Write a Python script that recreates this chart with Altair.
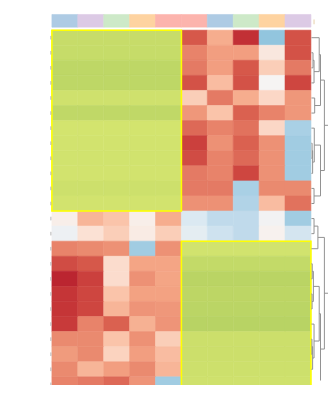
import altair as alt
import pandas as pd

# ---------------- data ----------------
N_ROWS = 24
N_COLS = 10
COLUMNS = [f"S{i}" for i in range(1, 11)]

# sample-group annotation colours (top bar)
ANNOT_COLORS = ["#aecbe4", "#dccae5", "#cde9c8", "#fed3a0", "#fcb4ad",
                "#fcb4ad", "#aecbe4", "#cde9c8", "#fed3a0", "#dccae5"]

# diverging values (None = masked, drawn in green)
_ = None
VALUES = [
    [_, _, _, _, _, 2.0, 0.9, 2.7, -1.3, 2.1],
    [_, _, _, _, _, 1.5, 1.1, 1.1, 0.2, 2.1],
    [_, _, _, _, _, 1.6, 1.1, 2.0, 0.5, 1.6],
    [_, _, _, _, _, 2.1, 0.7, 2.1, 0.0, 2.3],
    [_, _, _, _, _, 0.5, 1.6, 0.9, 0.4, 1.2],
    [_, _, _, _, _, 1.2, 0.6, 1.9, 1.5, 1.2],
    [_, _, _, _, _, 1.8, 1.5, 1.7, 0.4, -1.0],
    [_, _, _, _, _, 2.4, 1.3, 1.9, 1.3, -1.1],
    [_, _, _, _, _, 2.2, 1.5, 1.8, 1.3, -1.1],
    [_, _, _, _, _, 1.6, 1.5, 2.3, 1.3, -1.1],
    [_, _, _, _, _, 1.6, 1.6, -1.0, 1.4, 1.4],
    [_, _, _, _, _, 1.3, 1.3, -0.9, 0.7, 1.7],
    [0.1, 0.8, 0.6, 0.1, 0.9, -0.3, -0.7, -0.7, -0.05, -1.1],
    [-0.1, 0.3, 0.5, 0.15, 0.5, -0.2, -0.5, -0.7, 0.05, -0.4],
    [1.5, 1.4, 1.3, -1.1, 1.3, _, _, _, _, _],
    [2.2, 2.0, 0.35, 1.0, 1.0, _, _, _, _, _],
    [2.9, 2.4, 0.35, 1.3, 1.0, _, _, _, _, _],
    [2.6, 2.3, 0.6, 1.05, 1.05, _, _, _, _, _],
    [2.6, 2.3, 0.8, 1.25, 1.2, _, _, _, _, _],
    [2.5, 1.5, 1.9, 0.85, 1.25, _, _, _, _, _],
    [1.4, 1.4, 0.6, 1.3, 0.5, _, _, _, _, _],
    [1.15, 1.4, 0.45, 1.1, 0.7, _, _, _, _, _],
    [1.4, 0.8, 1.1, 1.4, 0.8, _, _, _, _, _],
    [1.5, 1.6, 1.8, 1.25, -1.1, _, _, _, _, _],
]

# green (masked block) intensity per row, 0 = light, 1 = dark
GREEN = [0.45, 0.5, 0.75, 0.75, 0.2, 0.7, 0.05, 0.1, 0.12, 0.1, 0.25, 0.1,
         None, None,
         0.12, 0.6, 0.9, 0.8, 0.85, 0.95, 0.3, 0.3, 0.25, 0.2]

# highlighted blocks: col start, col end, row start, row end
BOX_C0 = [0, 5]
BOX_C1 = [5, 10]
BOX_R0 = [0, 14]
BOX_R1 = [12, 24]

# row dendrogram merges (leaves 0..23, clusters 24..)
D_LEFT = [1, 24, 0, 4, 26, 7, 29, 6, 10, 31, 28, 12, 35, 15, 17, 37, 20, 40, 19, 39, 43, 36, 34]
D_RIGHT = [2, 3, 25, 5, 27, 8, 9, 30, 11, 32, 33, 13, 14, 16, 18, 38, 21, 22, 41, 42, 23, 44, 45]
D_HEIGHT = [1.2, 2.0, 6.0, 2.5, 7.0, 0.5, 0.9, 2.2, 2.0, 7.0, 10.0, 2.0, 5.0,
            0.6, 0.5, 1.5, 0.4, 0.9, 2.0, 6.0, 7.0, 10.0, 14.0]

# ---------------- layout ----------------
COL_W = 26.55
ROW_H = 15.45
LEFT = 45
TOP = 18
W, H = 328, 377
X0 = -LEFT / COL_W
X1 = X0 + W / COL_W
Y0 = -TOP / ROW_H
Y1 = Y0 + H / ROW_H
ANNOT_TOP, ANNOT_BOT = -1.04, -0.2

xs = alt.Scale(domain=[X0, X1], nice=False, zero=False)
ys = alt.Scale(domain=[Y0, Y1], nice=False, zero=False, reverse=True)


def enc(**kw):
    d = {}
    for k, v in kw.items():
        if k in ("x", "x2"):
            d[k] = alt.X(v, scale=xs, axis=None) if k == "x" else alt.X2(v)
        else:
            d[k] = alt.Y(v, scale=ys, axis=None) if k == "y" else alt.Y2(v)
    return d


red_rows, green_rows = [], []
for r in range(N_ROWS):
    for c in range(N_COLS):
        v = VALUES[r][c]
        if v is None:
            green_rows.append(dict(x=c, x2=c + 1, y=r, y2=r + 1, g=GREEN[r]))
        else:
            red_rows.append(dict(x=c, x2=c + 1, y=r, y2=r + 1, v=v))
red_df = pd.DataFrame(red_rows)
green_df = pd.DataFrame(green_rows)

annot_df = pd.DataFrame([dict(x=c, x2=c + 1, y=ANNOT_TOP, y2=ANNOT_BOT, col=ANNOT_COLORS[c])
                         for c in range(N_COLS)])
box_df = pd.DataFrame(dict(x=BOX_C0, x2=BOX_C1, y=BOX_R0, y2=BOX_R1))

RED_DOMAIN = [-1.3, -0.7, -0.3, 0.0, 0.3, 0.6, 1.0, 1.5, 2.0, 2.5, 3.0]
RED_RANGE = ["#92c5de", "#c0daeb", "#dbe9f2", "#f6f4f3", "#fbe1d4", "#fac4aa",
             "#f4a585", "#e8836a", "#d6584a", "#c83a3a", "#b8202d"]
red_scale = alt.Scale(domain=RED_DOMAIN, range=RED_RANGE, interpolate="rgb")
green_scale = alt.Scale(domain=[0, 1], range=["#d5e56f", "#b7d263"])

heat = alt.Chart(red_df).mark_rect(strokeWidth=0.6).encode(
    **enc(x="x:Q", x2="x2", y="y:Q", y2="y2"),
    color=alt.Color("v:Q", scale=red_scale, legend=None),
    stroke=alt.Stroke("v:Q", scale=red_scale, legend=None),
)
green = alt.Chart(green_df).mark_rect(strokeWidth=0.6).encode(
    **enc(x="x:Q", x2="x2", y="y:Q", y2="y2"),
    color=alt.Color("g:Q", scale=green_scale, legend=None),
    stroke=alt.Stroke("g:Q", scale=green_scale, legend=None),
)
annot = alt.Chart(annot_df).mark_rect(strokeWidth=0.6).encode(
    **enc(x="x:Q", x2="x2", y="y:Q", y2="y2"),
    color=alt.Color("col:N", scale=None),
    stroke=alt.Stroke("col:N", scale=None),
)
boxes = alt.Chart(box_df).mark_rect(filled=False, stroke="#ffff00", strokeWidth=1.6).encode(
    **enc(x="x:Q", x2="x2", y="y:Q", y2="y2"),
)

# left row ticks
tick_df = pd.DataFrame([dict(x=-0.04, x2=-0.04, y=r + 0.38, y2=r + 0.62) for r in range(N_ROWS)])
ticks = alt.Chart(tick_df).mark_rule(color="#b5b5b5", strokeWidth=1).encode(
    **enc(x="x:Q", x2="x2", y="y:Q", y2="y2"))
corner_df = pd.DataFrame([dict(x=-1.5, x2=-0.04, y=23.82, y2=23.82),
                          dict(x=-0.04, x2=-0.04, y=23.55, y2=23.82)])
corner = alt.Chart(corner_df).mark_rule(color="#9a9a9a", strokeWidth=1, clip=True).encode(
    **enc(x="x:Q", x2="x2", y="y:Q", y2="y2"))
# small mark at the right end of the annotation bar
mark_df = pd.DataFrame([dict(x=10.12, x2=10.12, y=-0.71, y2=-0.39)])
small_mark = alt.Chart(mark_df).mark_rule(color="#e6cfa8", strokeWidth=1).encode(
    **enc(x="x:Q", x2="x2", y="y:Q", y2="y2"))


# dendrogram segments
def hx(h):
    return N_COLS + 0.02 + h * 0.05


node_y = {i: i + 0.5 for i in range(N_ROWS)}
node_h = {i: 0.0 for i in range(N_ROWS)}
segs = []
for k, (a, b, h) in enumerate(zip(D_LEFT, D_RIGHT, D_HEIGHT)):
    nid = N_ROWS + k
    for ch in (a, b):
        segs.append(dict(x=hx(node_h[ch]), x2=hx(h), y=node_y[ch], y2=node_y[ch]))
    segs.append(dict(x=hx(h), x2=hx(h), y=node_y[a], y2=node_y[b]))
    node_y[nid] = (node_y[a] + node_y[b]) / 2
    node_h[nid] = h
dendro = alt.Chart(pd.DataFrame(segs)).mark_rule(color="#8f8f8f", strokeWidth=1, clip=True).encode(
    **enc(x="x:Q", x2="x2", y="y:Q", y2="y2"))

chart = alt.layer(heat, green, annot, boxes, ticks, corner, small_mark, dendro).resolve_scale(
    color="independent", stroke="independent"
).properties(
    width=W, height=H, padding=0, autosize=alt.AutoSizeParams(type="none")
).configure_view(stroke=None)

chart.save("out.html", embed_options={"renderer": "svg", "actions": False})
